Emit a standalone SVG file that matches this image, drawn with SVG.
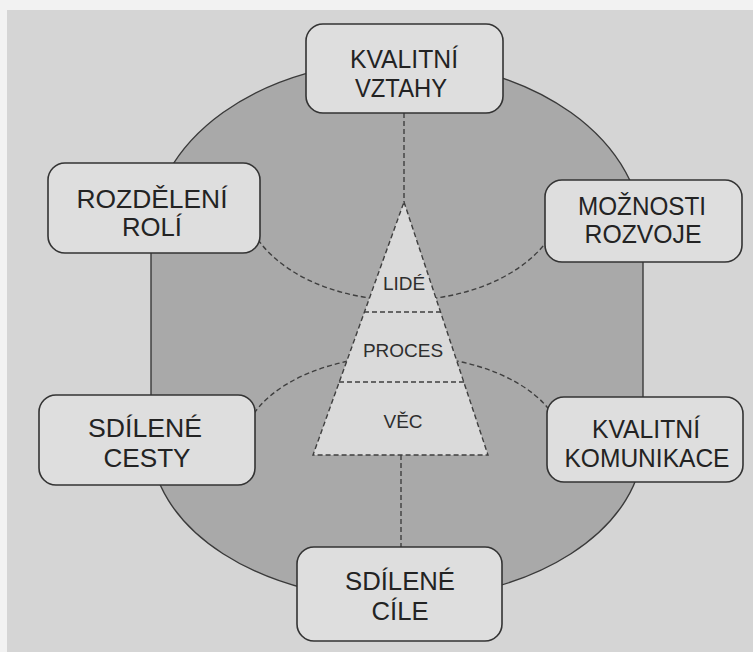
<svg xmlns="http://www.w3.org/2000/svg" width="753" height="652" viewBox="0 0 753 652">
  <style>
    .page { fill: #d5d5d5; }
    .edge { fill: #f2f2f2; }
    .field { fill: #a9a9a9; stroke: #3a3a3a; stroke-width: 1.4; }
    .box { fill: #dedede; stroke: #333333; stroke-width: 1.6; }
    .label { font-family: "Liberation Sans", Arial, sans-serif; font-size: 26px; fill: #232323; text-anchor: middle; }
    .inner { font-family: "Liberation Sans", Arial, sans-serif; font-size: 19px; fill: #2e2e2e; text-anchor: middle; }
    .dash { fill: none; stroke: #3f3f3f; stroke-width: 1.4; stroke-dasharray: 5 3; }
    .pyramid { fill: #dadada; stroke: #3f3f3f; stroke-width: 1.4; stroke-dasharray: 5 3; }
  </style>

  <!-- paper -->
  <rect class="page" x="0" y="0" width="753" height="652"/>
  <rect class="edge" x="0" y="0" width="753" height="10"/>
  <rect class="edge" x="0" y="0" width="7" height="652"/>

  <!-- grey rounded field behind everything -->
  <path id="field" class="field" d="M151,237 A246,176 0 0 1 643,237 L643,442 A246,158 0 0 1 151,442 Z"/>

  <!-- dashed connectors -->
  <g id="connectors">
    <line class="dash" x1="404" y1="113" x2="404" y2="202"/>
    <line class="dash" x1="401" y1="455" x2="401" y2="547"/>
    <path class="dash" d="M250,226 A160,105 0 0 0 556,226"/>
    <path class="dash" d="M250,420 A160,91 0 0 1 556,420"/>
  </g>

  <!-- central pyramid -->
  <g id="pyramid">
    <polygon class="pyramid" points="404,202 488,455 313,455"/>
    <line class="dash" x1="364" y1="312" x2="441" y2="312"/>
    <line class="dash" x1="339" y1="382" x2="464" y2="382"/>
    <text class="inner" x="404" y="290">LIDÉ</text>
    <text class="inner" x="403" y="357">PROCES</text>
    <text class="inner" x="403" y="428">VĚC</text>
  </g>

  <g id="kvalitni-vztahy">
    <rect class="box" x="306" y="24" width="197" height="89" rx="17"/>
    <text class="label" x="404" y="68" textLength="108" lengthAdjust="spacingAndGlyphs">KVALITNÍ</text>
    <text class="label" x="401" y="97" textLength="92" lengthAdjust="spacingAndGlyphs">VZTAHY</text>
  </g>

  <g id="rozdeleni-roli">
    <rect class="box" x="48" y="163" width="212" height="90" rx="17"/>
    <text class="label" x="152" y="208" textLength="151" lengthAdjust="spacingAndGlyphs">ROZDĚLENÍ</text>
    <text class="label" x="152" y="236" textLength="60" lengthAdjust="spacingAndGlyphs">ROLÍ</text>
  </g>

  <g id="moznosti-rozvoje">
    <rect class="box" x="545" y="180" width="197" height="82" rx="17"/>
    <text class="label" x="642" y="215" textLength="128" lengthAdjust="spacingAndGlyphs">MOŽNOSTI</text>
    <text class="label" x="643" y="243" textLength="117" lengthAdjust="spacingAndGlyphs">ROZVOJE</text>
  </g>

  <g id="sdilene-cesty">
    <rect class="box" x="39" y="395" width="216" height="90" rx="17"/>
    <text class="label" x="145" y="437" textLength="114" lengthAdjust="spacingAndGlyphs">SDÍLENÉ</text>
    <text class="label" x="147" y="467" textLength="87" lengthAdjust="spacingAndGlyphs">CESTY</text>
  </g>

  <g id="kvalitni-komunikace">
    <rect class="box" x="547" y="397" width="196" height="85" rx="17"/>
    <text class="label" x="646" y="438" textLength="108" lengthAdjust="spacingAndGlyphs">KVALITNÍ</text>
    <text class="label" x="647" y="467" textLength="165" lengthAdjust="spacingAndGlyphs">KOMUNIKACE</text>
  </g>

  <g id="sdilene-cile">
    <rect class="box" x="297" y="547" width="205" height="94" rx="17"/>
    <text class="label" x="400" y="590" textLength="110" lengthAdjust="spacingAndGlyphs">SDÍLENÉ</text>
    <text class="label" x="400" y="620" textLength="57" lengthAdjust="spacingAndGlyphs">CÍLE</text>
  </g>
</svg>
